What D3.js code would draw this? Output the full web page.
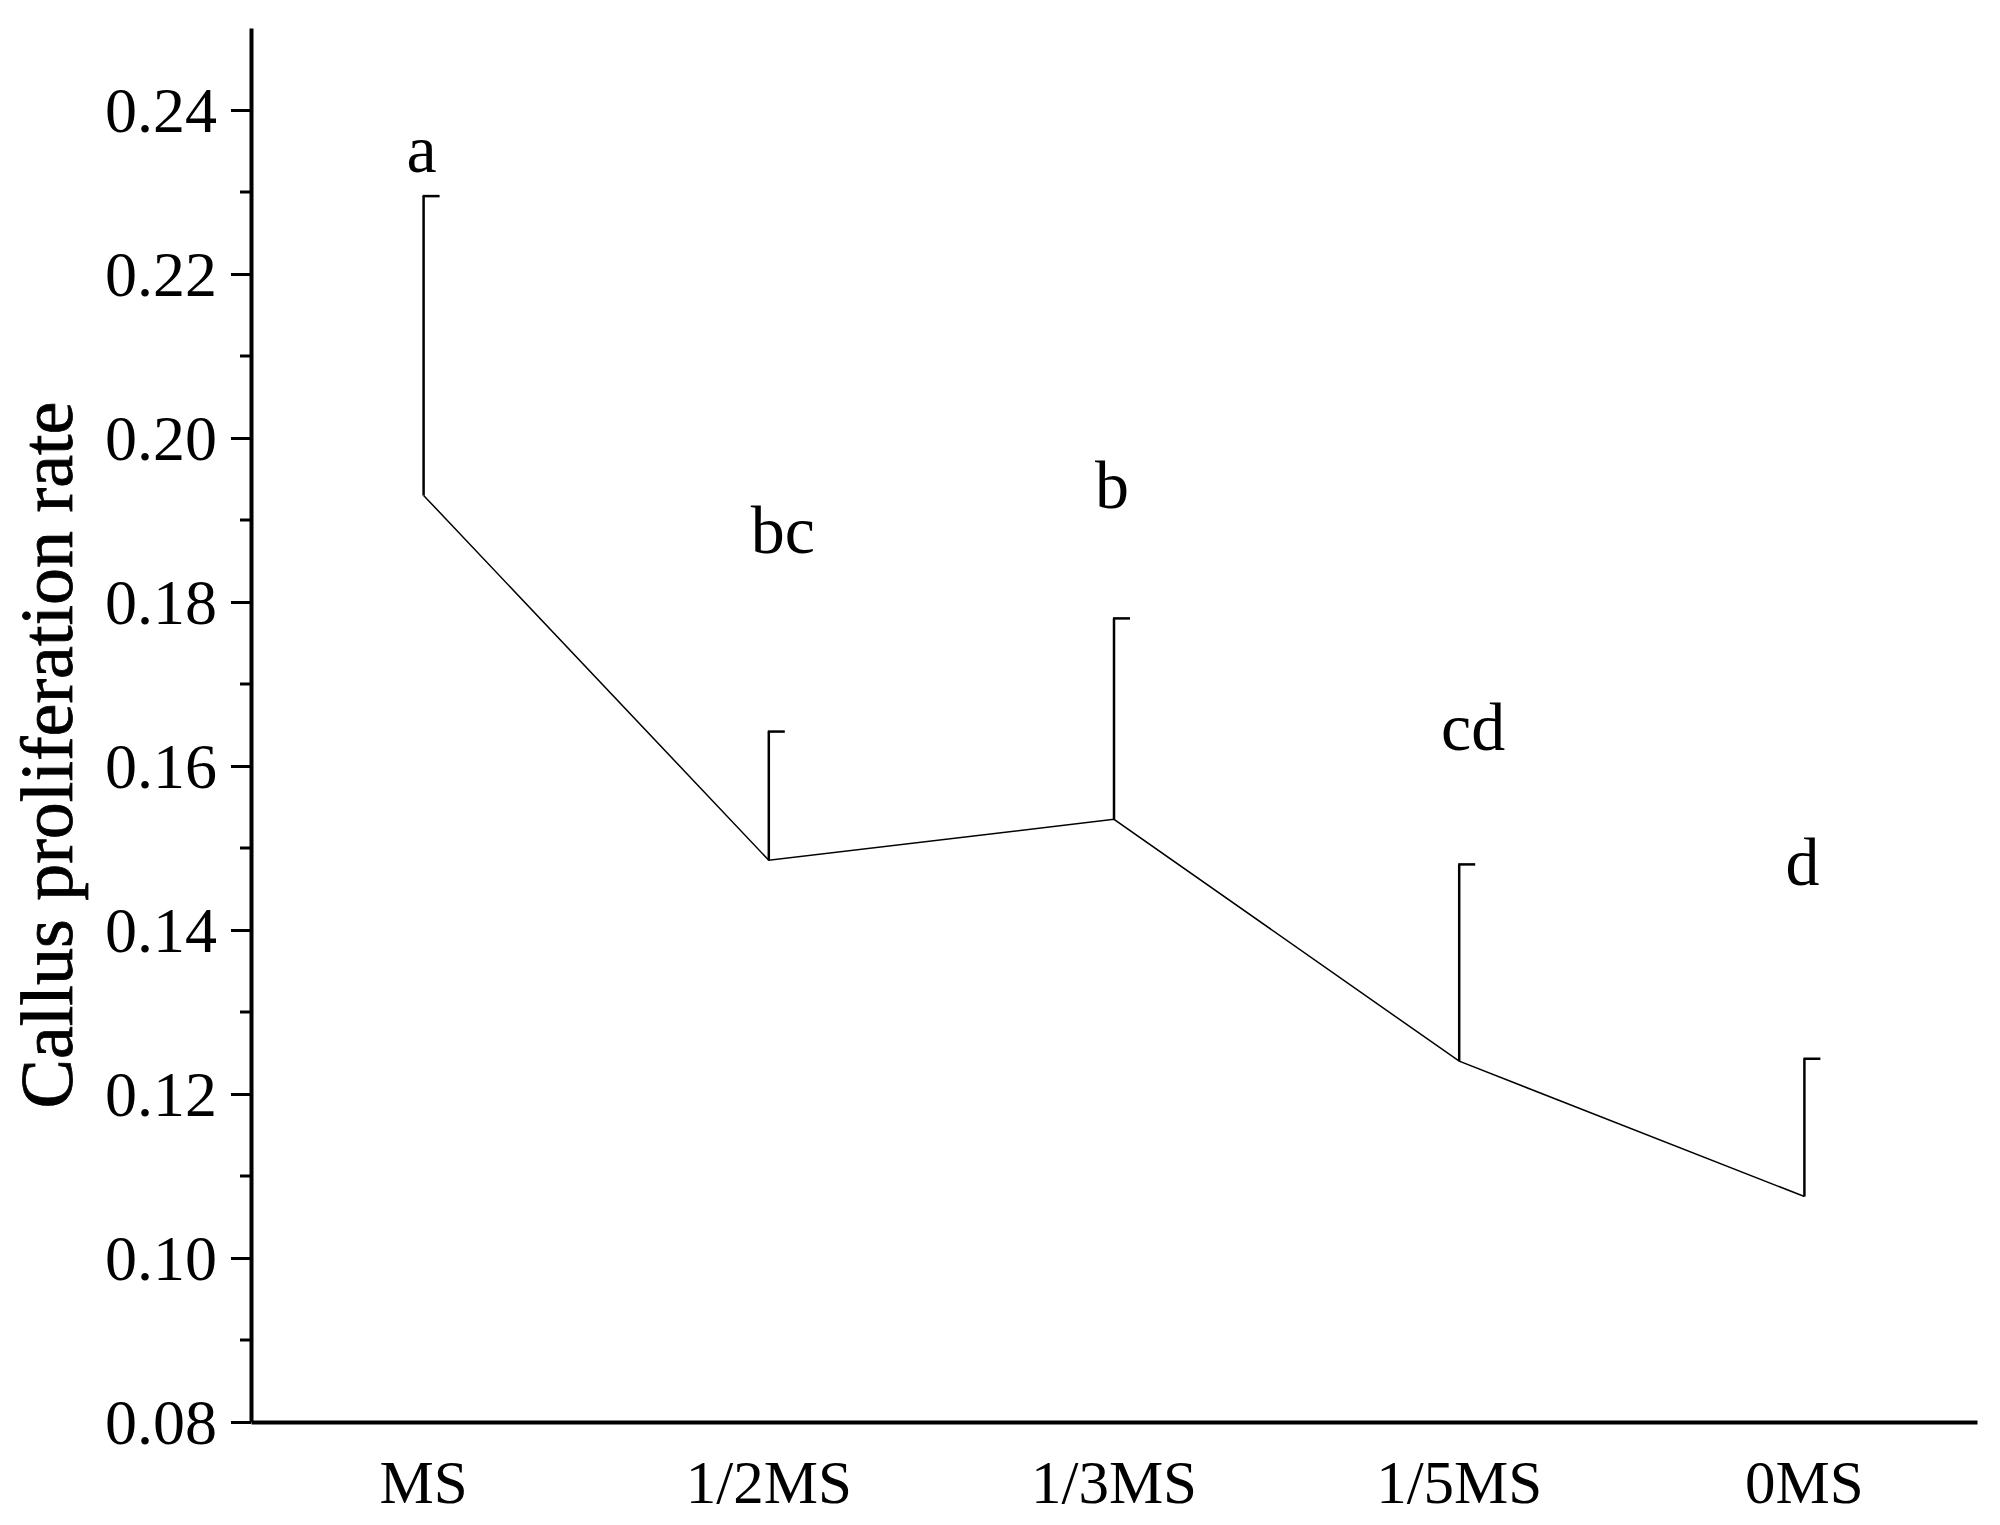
<!DOCTYPE html>
<html>
<head>
<meta charset="utf-8">
<script src="https://cdn.jsdelivr.net/npm/d3@7"></script>
<style>
  body { margin: 0; background: #fff; }
  text { font-family: "Liberation Serif", "Times New Roman", serif; }
</style>
</head>
<body>
<div id="chart"></div>
<script>
// data
const categories = ["MS", "1/2MS", "1/3MS", "1/5MS", "0MS"];
const means = [0.193, 0.1485, 0.1535, 0.124, 0.1075];
const errTops = [0.2295, 0.1642, 0.178, 0.148, 0.1243];
const letters = ["a", "bc", "b", "cd", "d"];
const letterVals = [0.2325, 0.186, 0.1915, 0.162, 0.1455];
const yTicks = [0.08, 0.10, 0.12, 0.14, 0.16, 0.18, 0.20, 0.22, 0.24];

const width = 2000, height = 1525;
const margin = { left: 251, right: 23, top: 28, bottom: 103 };

const svg = d3.select("#chart").append("svg")
    .attr("width", width)
    .attr("height", height);

const x = d3.scaleBand()
    .domain(categories)
    .range([margin.left, width - margin.right])
    .paddingInner(0).paddingOuter(0);

const y = d3.scaleLinear()
    .domain([0.08, 0.25])
    .range([height - margin.bottom, margin.top]);

const cx = d => x(d) + x.bandwidth() / 2;

// minor ticks
const minor = d3.range(0.09, 0.25, 0.02);
svg.append("g").selectAll("line")
  .data(minor)
  .join("line")
    .attr("x1", margin.left - 11).attr("x2", margin.left)
    .attr("y1", d => y(d)).attr("y2", d => y(d))
    .attr("stroke", "#000").attr("stroke-width", 3);

// y axis
const yAxis = svg.append("g")
    .attr("transform", `translate(${margin.left},0)`)
    .call(d3.axisLeft(y).tickValues(yTicks).tickFormat(d3.format(".2f")).tickSize(20).tickSizeOuter(0));
yAxis.select(".domain").attr("stroke-width", 4);
yAxis.selectAll(".tick line").attr("stroke-width", 3);
yAxis.selectAll(".tick text")
    .attr("font-size", 64)
    .attr("dy", "0.34em")
    .attr("x", -34)
    .attr("font-family", "Liberation Serif");

// x axis
const xAxis = svg.append("g")
    .attr("transform", `translate(0,${height - margin.bottom})`)
    .call(d3.axisBottom(x).tickSize(0).tickSizeOuter(0));
xAxis.select(".domain").attr("stroke-width", 4);
xAxis.selectAll(".tick text")
    .attr("font-size", 61)
    .attr("y", 38)
    .attr("dy", "0.71em")
    .attr("font-family", "Liberation Serif");

// y title
svg.append("text")
    .attr("transform", `translate(${72},${(y(0.08) + y(0.25)) / 2 + 30}) rotate(-90)`)
    .attr("text-anchor", "middle")
    .attr("font-size", 74)
    .attr("stroke", "#000")
    .attr("stroke-width", 0.8)
    .text("Callus proliferation rate");

// error bars
const eb = svg.append("g").attr("stroke", "#000").attr("stroke-width", 2.5);
categories.forEach((c, i) => {
  eb.append("line")
    .attr("x1", cx(c)).attr("x2", cx(c))
    .attr("y1", y(means[i])).attr("y2", y(errTops[i]));
  eb.append("line")
    .attr("x1", cx(c) - 1).attr("x2", cx(c) + 16)
    .attr("y1", y(errTops[i])).attr("y2", y(errTops[i]));
});

// mean line
svg.append("path")
    .datum(means)
    .attr("fill", "none")
    .attr("stroke", "#000")
    .attr("stroke-width", 1.5)
    .attr("d", d3.line().x((d, i) => cx(categories[i])).y(d => y(d)));

// significance letters
svg.append("g").selectAll("text")
  .data(letters)
  .join("text")
    .attr("x", (d, i) => cx(categories[i]) + (d.length > 1 ? 14 : -2))
    .attr("y", (d, i) => y(letterVals[i]))
    .attr("text-anchor", "middle")
    .attr("font-size", 68)
    .text(d => d);
</script>
</body>
</html>
